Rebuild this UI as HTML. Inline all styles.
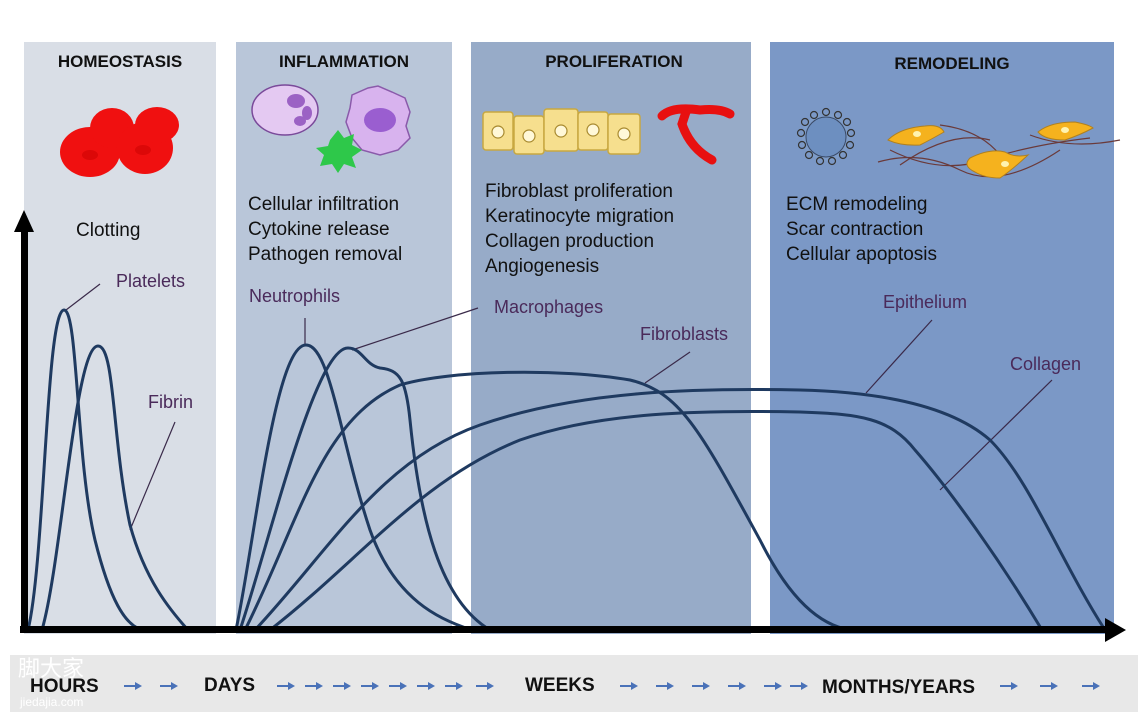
<!DOCTYPE html>
<html><head><meta charset="utf-8"><style>
body{margin:0;background:#fff;}
svg{display:block;font-family:"Liberation Sans",sans-serif;}
</style></head><body>
<svg width="1138" height="714" viewBox="0 0 1138 714" xmlns="http://www.w3.org/2000/svg">
<defs>
<g id="ar"><path d="M0 0 L14 0" stroke="#4a72b8" stroke-width="2"/><path d="M11 -4 L18 0 L11 4 Z" fill="#4a72b8"/></g>
</defs>
<rect width="1138" height="714" fill="#fff"/>
<!-- panels -->
<rect x="24" y="42" width="192" height="592" fill="#d9dee6"/>
<rect x="236" y="42" width="216" height="592" fill="#b9c6d9"/>
<rect x="471" y="42" width="280" height="592" fill="#97abc8"/>
<rect x="770" y="42" width="344" height="592" fill="#7b98c6"/>
<!-- titles -->
<g font-weight="bold" font-size="17" fill="#111" text-anchor="middle">
<text x="120" y="67">HOMEOSTASIS</text>
<text x="344" y="67">INFLAMMATION</text>
<text x="614" y="67">PROLIFERATION</text>
<text x="952" y="69">REMODELING</text>
</g>
<!-- RBCs -->
<g fill="#f01010">
<ellipse cx="90" cy="152" rx="30" ry="25"/>
<ellipse cx="112" cy="128" rx="22" ry="20"/>
<ellipse cx="145" cy="148" rx="28" ry="26"/>
<ellipse cx="157" cy="125" rx="22" ry="18"/>
</g>
<g fill="#c80000" opacity="0.5"><ellipse cx="90" cy="155" rx="8" ry="5"/><ellipse cx="143" cy="150" rx="8" ry="5"/></g>
<!-- inflammation cells -->
<ellipse cx="285" cy="110" rx="33" ry="25" fill="#e4c9f2" stroke="#7a4a9a" stroke-width="1.5"/>
<g fill="#9b62c4"><ellipse cx="296" cy="101" rx="9" ry="7"/><ellipse cx="307" cy="113" rx="5" ry="7"/><ellipse cx="300" cy="121" rx="6" ry="5"/></g>
<path d="M352 95 L368 88 L378 86 L392 92 L405 98 L410 112 L406 126 L410 138 L398 150 L380 155 L362 150 L352 138 L346 122 L350 108 Z" fill="#d8b3ee" stroke="#8a5aaa" stroke-width="1.5"/>
<ellipse cx="380" cy="120" rx="16" ry="12" fill="#9a5ed0"/>
<path d="M330 140 L338 130 L344 138 L354 134 L352 145 L362 150 L352 157 L356 168 L344 164 L338 173 L332 164 L320 166 L324 155 L316 148 L328 146 Z" fill="#2ec84a"/>
<!-- proliferation cells -->
<g fill="#f6df8e" stroke="#c8a840" stroke-width="1.5">
<rect x="483" y="112" width="30" height="38" rx="3"/>
<rect x="514" y="116" width="30" height="38" rx="3"/>
<rect x="544" y="109" width="34" height="42" rx="3"/>
<rect x="578" y="112" width="30" height="38" rx="3"/>
<rect x="608" y="114" width="32" height="40" rx="3"/>
</g>
<g fill="#fff8d8" stroke="#a88a30" stroke-width="1.2">
<circle cx="498" cy="132" r="6"/><circle cx="529" cy="136" r="6"/><circle cx="561" cy="131" r="6"/><circle cx="593" cy="130" r="6"/><circle cx="624" cy="134" r="6"/>
</g>
<path d="M662 116 Q672 106 700 110 Q720 108 730 114 M686 112 L682 124 Q690 148 712 160" stroke="#e81010" stroke-width="9" fill="none" stroke-linecap="round"/>
<!-- remodeling -->
<circle cx="826" cy="137" r="24" fill="#7e9cc8"/>
<circle cx="826" cy="137" r="20" fill="#6d8fc0" stroke="#3a4a66" stroke-width="1"/>
<g fill="none" stroke="#333" stroke-width="1.2">
<circle cx="826" cy="112" r="3.5"/><circle cx="838" cy="115" r="3.5"/><circle cx="847" cy="122" r="3.5"/><circle cx="851" cy="133" r="3.5"/><circle cx="850" cy="145" r="3.5"/><circle cx="843" cy="155" r="3.5"/><circle cx="832" cy="161" r="3.5"/><circle cx="820" cy="161" r="3.5"/><circle cx="809" cy="155" r="3.5"/><circle cx="802" cy="145" r="3.5"/><circle cx="801" cy="133" r="3.5"/><circle cx="805" cy="122" r="3.5"/><circle cx="814" cy="115" r="3.5"/>
</g>
<g fill="none" stroke="#6a3a3a" stroke-width="1.2">
<path d="M878 162 Q920 150 960 170 T1060 150"/>
<path d="M890 150 Q940 175 985 160 T1090 138"/>
<path d="M940 125 Q980 130 1000 155"/>
<path d="M900 165 Q950 130 990 140"/>
<path d="M1030 135 Q1070 150 1120 140"/>
</g>
<g fill="#f5b21e" stroke="#b08020" stroke-width="1">
<path d="M888 140 Q900 128 925 126 Q940 124 944 132 Q930 140 920 145 Q900 146 888 140Z"/>
<path d="M970 158 Q990 148 1005 152 Q1015 158 1028 155 Q1012 170 1000 178 Q985 178 975 172 Q962 166 970 158Z"/>
<path d="M1038 132 Q1050 122 1075 122 Q1090 125 1093 128 Q1080 135 1065 140 Q1045 140 1038 132Z"/>
</g>
<g fill="#fff3b0"><ellipse cx="917" cy="134" rx="4" ry="3"/><ellipse cx="1005" cy="164" rx="4" ry="3"/><ellipse cx="1065" cy="130" rx="4" ry="3"/></g>
<!-- descriptions -->
<g font-size="19" fill="#111">
<text x="76" y="236">Clotting</text>
<text x="248" y="210">Cellular infiltration</text>
<text x="248" y="235">Cytokine release</text>
<text x="248" y="260">Pathogen removal</text>
<text x="485" y="197">Fibroblast proliferation</text>
<text x="485" y="222">Keratinocyte migration</text>
<text x="485" y="247">Collagen production</text>
<text x="485" y="272">Angiogenesis</text>
<text x="786" y="210">ECM remodeling</text>
<text x="786" y="235">Scar contraction</text>
<text x="786" y="260">Cellular apoptosis</text>
</g>
<!-- curve labels -->
<g font-size="18" fill="#4a2a5a">
<text x="116" y="287">Platelets</text>
<text x="148" y="408">Fibrin</text>
<text x="249" y="302">Neutrophils</text>
<text x="494" y="313">Macrophages</text>
<text x="640" y="340">Fibroblasts</text>
<text x="883" y="308">Epithelium</text>
<text x="1010" y="370">Collagen</text>
</g>
<g stroke="#3a2a4a" stroke-width="1.2" fill="none">
<path d="M100 284 L66 310"/>
<path d="M175 422 L130 530"/>
<path d="M305 318 L305 345"/>
<path d="M478 308 L352 350"/>
<path d="M690 352 L645 383"/>
<path d="M932 320 L866 393"/>
<path d="M1052 380 L940 490"/>
</g>
<!-- curves -->
<g stroke="#1f3a60" stroke-width="3" fill="none" stroke-linecap="round">
<path d="M28 630 C45 560 46 310 64 310 C78 310 76 460 95 540 C110 600 125 625 142 630"/>
<path d="M42 630 C62 560 75 346 98 346 C115 346 112 440 130 525 C145 580 170 610 188 630"/>
<path d="M236 630 C255 540 275 345 306 345 C330 345 340 440 370 530 C395 600 440 620 472 630"/>
<path d="M240 630 C270 540 315 348 348 348 C362 348 365 365 380 368 C400 370 406 380 410 420 C420 520 440 600 490 630"/>
<path d="M245 630 C300 520 320 420 400 385 C450 370 560 368 630 380 C680 392 700 430 760 540 C790 600 820 625 850 630"/>
<path d="M255 630 C330 550 380 460 480 425 C580 390 700 388 800 390 C880 392 950 405 990 440 C1030 480 1060 560 1105 630"/>
<path d="M270 630 C360 560 420 480 520 440 C600 412 700 410 800 412 C860 414 890 418 915 450 C950 490 1000 560 1042 630"/>
</g>
<!-- axes -->
<rect x="20" y="626" width="1090" height="7" fill="#000"/>
<path d="M1105 618 L1126 630 L1105 642 Z" fill="#000"/>
<rect x="21" y="228" width="7" height="405" fill="#000"/>
<path d="M14 232 L24 210 L34 232 Z" fill="#000"/>
<!-- bottom band -->
<rect x="10" y="655" width="1128" height="57" fill="#e8e8e8"/>
<g font-size="19" font-weight="bold" fill="#111">
<text x="30" y="692">HOURS</text>
<text x="204" y="691">DAYS</text>
<text x="525" y="691">WEEKS</text>
<text x="822" y="693">MONTHS/YEARS</text>
</g>
<g>
<use href="#ar" x="124" y="686"/><use href="#ar" x="160" y="686"/>
<use href="#ar" x="277" y="686"/><use href="#ar" x="305" y="686"/><use href="#ar" x="333" y="686"/><use href="#ar" x="361" y="686"/><use href="#ar" x="389" y="686"/><use href="#ar" x="417" y="686"/><use href="#ar" x="445" y="686"/><use href="#ar" x="476" y="686"/>
<use href="#ar" x="620" y="686"/><use href="#ar" x="656" y="686"/><use href="#ar" x="692" y="686"/><use href="#ar" x="728" y="686"/><use href="#ar" x="764" y="686"/><use href="#ar" x="790" y="686"/>
<use href="#ar" x="1000" y="686"/><use href="#ar" x="1040" y="686"/><use href="#ar" x="1082" y="686"/>
</g>
<text x="18" y="676" font-size="22" fill="#fff" font-family="'Liberation Sans','Noto Sans CJK SC',sans-serif">脚大家</text>
<text x="20" y="706" font-size="12" fill="#fff">jiedajia.com</text>
</svg>
</body></html>
